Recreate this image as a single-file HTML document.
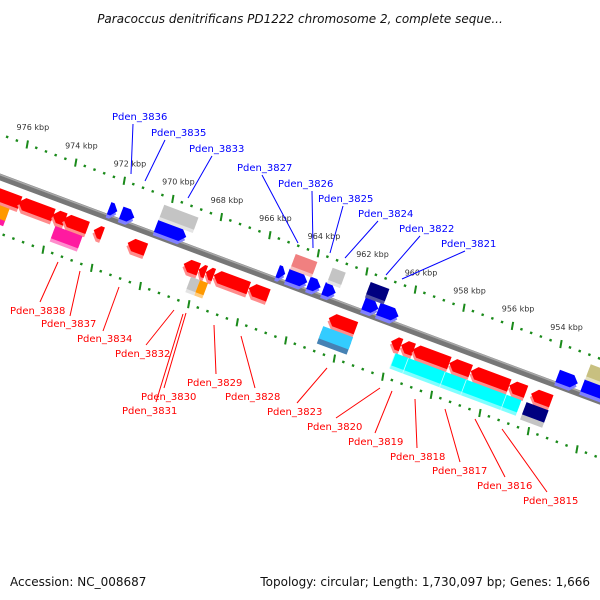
<!DOCTYPE html>
<html><head><meta charset="utf-8"><style>
html,body{margin:0;padding:0;background:#fff;}
svg{display:block;font-family:"DejaVu Sans","Liberation Sans",sans-serif;}
</style></head><body>
<svg id="chart" width="600" height="600" viewBox="0 0 600 600">
<text x="300" y="23" text-anchor="middle" font-size="12" font-style="italic" fill="#111">Paracoccus denitrificans PD1222 chromosome 2, complete seque...</text>
<g id="rot" transform="translate(0,177) rotate(20.5)">
<line x1="-100" y1="0" x2="800" y2="0" stroke="#777" stroke-width="6.5"/>
<line x1="-100" y1="-2.2" x2="800" y2="-2.2" stroke="#a8a8a8" stroke-width="1.5"/>
<g id="dots"></g>
<g id="genes"></g>
</g>
<g id="kblabels"></g>
<g font-size="10" fill="#0000ff" stroke-width="1">
<text x="112" y="120">Pden_3836</text><line x1="133" y1="124" x2="131" y2="174" stroke="#0000ff"/>
<text x="151" y="136">Pden_3835</text><line x1="165" y1="140" x2="145" y2="181" stroke="#0000ff"/>
<text x="189" y="152">Pden_3833</text><line x1="212" y1="156" x2="188" y2="198" stroke="#0000ff"/>
<text x="237" y="171">Pden_3827</text><line x1="262" y1="175" x2="298" y2="243" stroke="#0000ff"/>
<text x="278" y="187">Pden_3826</text><line x1="312" y1="191" x2="313" y2="248" stroke="#0000ff"/>
<text x="318" y="202">Pden_3825</text><line x1="343" y1="206" x2="330" y2="253" stroke="#0000ff"/>
<text x="358" y="217">Pden_3824</text><line x1="378" y1="221" x2="345" y2="258" stroke="#0000ff"/>
<text x="399" y="232">Pden_3822</text><line x1="420" y1="236" x2="386" y2="275" stroke="#0000ff"/>
<text x="441" y="247">Pden_3821</text><line x1="465" y1="251" x2="402" y2="279" stroke="#0000ff"/>
</g>
<g font-size="10" fill="#ff0000">
<text x="10" y="314">Pden_3838</text><line x1="40" y1="302" x2="58" y2="262" stroke="#ff0000"/>
<text x="41" y="327">Pden_3837</text><line x1="70" y1="316" x2="80" y2="271" stroke="#ff0000"/>
<text x="77" y="342">Pden_3834</text><line x1="103" y1="331" x2="119" y2="287" stroke="#ff0000"/>
<text x="115" y="357">Pden_3832</text><line x1="146" y1="345" x2="174" y2="310" stroke="#ff0000"/>
<text x="141" y="400">Pden_3830</text><line x1="164" y1="388" x2="186" y2="313" stroke="#ff0000"/>
<text x="122" y="414">Pden_3831</text><line x1="156" y1="402" x2="183" y2="314" stroke="#ff0000"/>
<text x="187" y="386">Pden_3829</text><line x1="216" y1="374" x2="214" y2="325" stroke="#ff0000"/>
<text x="225" y="400">Pden_3828</text><line x1="255" y1="388" x2="241" y2="336" stroke="#ff0000"/>
<text x="267" y="415">Pden_3823</text><line x1="297" y1="403" x2="327" y2="368" stroke="#ff0000"/>
<text x="307" y="430">Pden_3820</text><line x1="336" y1="418" x2="380" y2="388" stroke="#ff0000"/>
<text x="348" y="445">Pden_3819</text><line x1="375" y1="433" x2="392" y2="391" stroke="#ff0000"/>
<text x="390" y="460">Pden_3818</text><line x1="417" y1="448" x2="415" y2="399" stroke="#ff0000"/>
<text x="432" y="474">Pden_3817</text><line x1="460" y1="462" x2="445" y2="409" stroke="#ff0000"/>
<text x="477" y="489">Pden_3816</text><line x1="505" y1="477" x2="475" y2="419" stroke="#ff0000"/>
<text x="523" y="504">Pden_3815</text><line x1="547" y1="492" x2="502" y2="429" stroke="#ff0000"/>
</g>
<text x="10" y="586" font-size="12" fill="#111">Accession: NC_008687</text>
<text x="590" y="586" font-size="12" fill="#111" text-anchor="end">Topology: circular; Length: 1,730,097 bp; Genes: 1,666</text>
</svg>
<script>
const kbTicks=[976,974,972,970,968,966,964,962,960,958,956,954];
const geneStart=[977.3,975.51,974.11,973.66,972.41,971.01,968.70,968.08,967.79,967.46,966.02,962.72,960.15,959.74,959.26,957.75,956.87,955.28,954.38,
 976.9,973.85,968.26,967.89,962.81,959.84,959.30,957.78,956.91,955.26,954.43,
 972.15,971.65,970.21,965.20,964.80,963.93,963.31,961.66,961.05,953.66,952.63,
 970.20,964.78,963.26,961.69,952.62];
const geneEnd=[975.44,974.07,973.58,972.66,972.04,970.26,968.08,967.79,967.46,966.02,965.21,961.60,959.74,959.22,957.75,956.87,955.28,954.59,953.55,
 975.74,972.73,967.89,967.56,961.58,959.30,957.78,956.91,955.26,954.64,953.52,
 971.81,971.11,968.97,964.89,963.98,963.43,962.81,961.05,960.22,952.83,951.0,
 968.79,963.89,962.72,960.92,951.0];
const geneLane=[1,1,1,1,1,1,1,1,1,1,1,1,1,1,1,1,1,1,1,
 2,2,2,2,2,2,2,2,2,2,2,
 -1,-1,-1,-1,-1,-1,-1,-1,-1,-1,-1,
 -2,-2,-2,-2,-2];
const geneColor=["red","red","red","red","red","red","red","red","red","red","red","red","red","red","red","red","red","red","red",
 "orangemag","magenta","gray","orange","cyansteel","cyan","cyan","cyan","cyan","cyan","navygray",
 "blue","blue","blue","blue","blue","blue","blue","blue","blue","blue","blue",
 "gray","pink","gray","navy","olive"];

const NS="http://www.w3.org/2000/svg";
const COS=Math.cos(20.5*Math.PI/180), SIN=Math.sin(20.5*Math.PI/180);
function uScale(kb){return 117+(972-kb)*25.9;}
function laneV(l){return {1:17,2:33,"-1":-9,"-2":-25}[l];}
const palette={red:["#ff0000","#ff8c8c"],blue:["#0000ff","#8080ff"],gray:["#c4c4c4","#e4e4e4"],orange:["#ff9900","#ffcc80"],orangemag:["#ff9900","#ff1aa0"],
 magenta:["#ff1aa0","#ff8ccc"],cyan:["#00ffff","#80ffff"],cyansteel:["#33ccff","#4682b4"],navygray:["#000080","#c4c4c4"],
 navy:["#000080","#5050a0"],pink:["#f08080","#f8c0c0"],olive:["#c8c080","#e4e0c0"]};

const dots=document.getElementById('dots');
for(let i=0;i<=80;i++){
  const kb=980-i*0.4;
  const u=uScale(kb);
  const isTick=Math.abs(kb-Math.round(kb))<0.01 && Math.round(kb)%2===0;
  [-40,53].forEach(v=>{
    let el;
    if(isTick){
      el=document.createElementNS(NS,'line');
      el.setAttribute('x1',u);el.setAttribute('x2',u+1.5);
      el.setAttribute('y1',v-4);el.setAttribute('y2',v+4);
      el.setAttribute('stroke','#1a8a1a');el.setAttribute('stroke-width','2');
      
      
    }else{
      el=document.createElementNS(NS,'rect');
      el.setAttribute('x',u-1.2);el.setAttribute('y',v-1.2);
      el.setAttribute('width',2.4);el.setAttribute('height',2.4);
      el.setAttribute('fill','#1a8a1a');
      
      
    }
    dots.appendChild(el);
  });
}

const kbl=document.getElementById('kblabels');
kbTicks.forEach(kb=>{
  const u=uScale(kb), v=-40;
  const x=u*COS-v*SIN, y=177+u*SIN+v*COS;
  const t=document.createElementNS(NS,'text');
  t.setAttribute('x',x-10);t.setAttribute('y',y-14);
  t.setAttribute('font-size','8');t.setAttribute('fill','#333');
  t.textContent=kb+' kbp';
  
  
  kbl.appendChild(t);
});

const genes=document.getElementById('genes');
function shapePts(u1,u2,v,dir,box){
  const a=Math.min(6,(u2-u1)*0.6), h=6.5;
  if(box) return [[u1,v-h],[u2,v-h],[u2,v+h],[u1,v+h]];
  if(dir>0) return [[u1,v-h],[u2-a,v-h],[u2,v],[u2-a,v+h],[u1,v+h]];
  return [[u1+a,v-h],[u2,v-h],[u2,v+h],[u1+a,v+h],[u1,v]];
}
for(let i=0;i<geneStart.length;i++){
  const u1=Math.min(uScale(geneStart[i]),uScale(geneEnd[i]));
  const u2=Math.max(uScale(geneStart[i]),uScale(geneEnd[i]));
  const v=laneV(geneLane[i]);
  const c=geneColor[i];
  const box=!(c==="red"||c==="blue");
  const dir=c==="blue"?1:-1;
  const pal=palette[c];
  const g=document.createElementNS(NS,'g');
  
  
  const two=(c==="orangemag"||c==="cyansteel"||c==="navygray");
  const sh=document.createElementNS(NS,'polygon');
  sh.setAttribute('points',shapePts(u1,u2,v+(two?5.5:3.5),dir,box).map(p=>p.join(',')).join(' '));
  sh.setAttribute('fill',pal[1]);
  
  
  g.appendChild(sh);
  const p=document.createElementNS(NS,'polygon');
  p.setAttribute('points',shapePts(u1,u2,v,dir,box).map(q=>q.join(',')).join(' '));
  p.setAttribute('fill',pal[0]);
  
  
  g.appendChild(p);
  if(c==="cyan"){
    const s=document.createElementNS(NS,'line');
    s.setAttribute('x1',u1);s.setAttribute('x2',u1);
    s.setAttribute('y1',v-6.5);s.setAttribute('y2',v+10);
    s.setAttribute('stroke','#c0ffff');s.setAttribute('stroke-width','0.8');
    
    
    g.appendChild(s);
  }
  genes.appendChild(g);
}
</script>
</body></html>
